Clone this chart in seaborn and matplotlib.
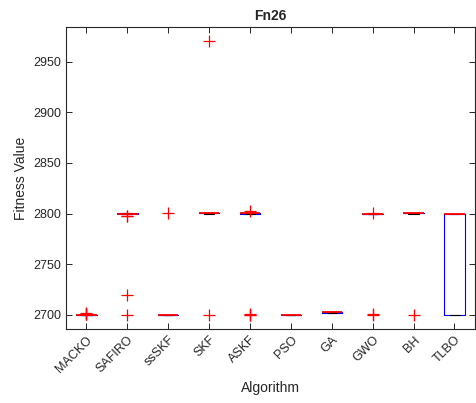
import pandas as pd
import matplotlib.pyplot as plt
import seaborn as sns

algorithms = ['MACKO', 'SAFIRO', 'ssSKF', 'SKF', 'ASKF', 'PSO', 'GA', 'GWO', 'BH', 'TLBO']

# fitness values of the runs
macko = [2700, 2700, 2700, 2700, 2700, 2700, 2700, 2700, 2700, 2700,
         2700, 2700, 2700, 2700, 2700, 2700, 2700.6, 2701.2, 2700.9, 2701.5]
safiro = [2800, 2800, 2800.5, 2799.6, 2800, 2800.2, 2800.4, 2799.8, 2800, 2800.3,
          2800.1, 2799.7, 2800, 2800.5, 2799.5, 2800, 2798, 2797.5, 2720, 2700]
ssskf = [2700, 2700, 2700, 2700, 2700, 2700, 2700, 2700, 2700, 2700,
         2700, 2700, 2700, 2700, 2700, 2700, 2700, 2700, 2700, 2801]
skf = [2800, 2801, 2800.5, 2800.2, 2801, 2800.8, 2800, 2800.6, 2800.4, 2801,
       2800.3, 2800.7, 2800, 2801, 2800.5, 2800.2, 2800.8, 2800.5, 2970, 2700]
askf = [2800, 2801, 2800.5, 2800.2, 2801, 2800.8, 2800, 2800.6, 2800.4, 2801,
        2800.3, 2800.7, 2800, 2801, 2800.5, 2800.2, 2802.5, 2700, 2700.5, 2699.5]
pso = [2700, 2700, 2700, 2700, 2700, 2700, 2700, 2700, 2700, 2700,
       2700, 2700, 2700, 2700, 2700, 2700, 2700, 2700, 2700, 2700]
ga = [2702, 2702.5, 2703, 2702.2, 2702.8, 2702.4, 2702.6, 2702, 2703, 2702.5,
      2702.1, 2702.9, 2702.3, 2702.7, 2702.5, 2702.2, 2702.8, 2702.4, 2702.6, 2702.5]
gwo = [2800, 2800, 2800, 2800, 2800, 2800, 2800, 2800, 2800, 2800,
       2800, 2800, 2800, 2800, 2800, 2800, 2800, 2801, 2700, 2700.5]
bh = [2800, 2800.5, 2800.2, 2800.4, 2800, 2800.5, 2800.3, 2800.1, 2800, 2800.5,
      2800.2, 2800.4, 2800, 2800.5, 2800.3, 2800.1, 2800.2, 2800.4, 2800.5, 2700]
tlbo = [2700, 2700, 2700, 2700, 2700, 2700, 2700, 2700, 2800, 2800,
        2800, 2800, 2800, 2800, 2800, 2800, 2800, 2800, 2800, 2800]

runs = [macko, safiro, ssskf, skf, askf, pso, ga, gwo, bh, tlbo]
df = pd.DataFrame([(a, v) for a, vals in zip(algorithms, runs) for v in vals],
                  columns=['Algorithm', 'Fitness'])

sns.set_style('white')
plt.rcParams['font.family'] = ['Liberation Sans', 'DejaVu Sans']

fig = plt.figure(figsize=(4.76, 4.03), dpi=100)
ax = fig.add_axes([0.1387, 0.1836, 0.859, 0.749])

sns.boxplot(data=df, x='Algorithm', y='Fitness', order=algorithms, ax=ax,
            width=0.5, fill=False, whis=1.5, linewidth=0.8,
            boxprops=dict(color='blue'),
            medianprops=dict(color='red'),
            whiskerprops=dict(color='black', linestyle='--'),
            capprops=dict(color='black'),
            flierprops=dict(marker='+', markersize=8, markeredgewidth=0.9))

# matlab look: red medians on top, red plus outliers
for c in ax.containers:
    for m in c.medians:
        m.set_color('red')
        m.set_linewidth(1.3)
        m.set_zorder(5)
    for f in c.fliers:
        f.set_color('red')
        f.set_markeredgecolor('red')
        f.set_alpha(1)
        f.set_zorder(6)

ax.set_xlim(0.5 - 1, 10.5 - 1)
ax.set_ylim(2686, 2984)
ax.set_yticks([2700, 2750, 2800, 2850, 2900, 2950])
ax.set_xticks(range(len(algorithms)))
ax.set_xticklabels(algorithms, rotation=45, ha='right', rotation_mode='anchor')
ax.tick_params(direction='in', length=4, width=0.7, colors='#262626', labelsize=9,
               top=True, right=True, bottom=True, left=True)
for s in ax.spines.values():
    s.set_color('#262626')
    s.set_linewidth(0.8)
    s.set_visible(True)
ax.set_xlabel('Algorithm', fontsize=10, color='#262626')
ax.set_ylabel('Fitness Value', fontsize=10, color='#262626')
ax.set_title('Fn26', fontsize=10, fontweight='bold', pad=5)

fig.savefig('out.png', dpi=100)
